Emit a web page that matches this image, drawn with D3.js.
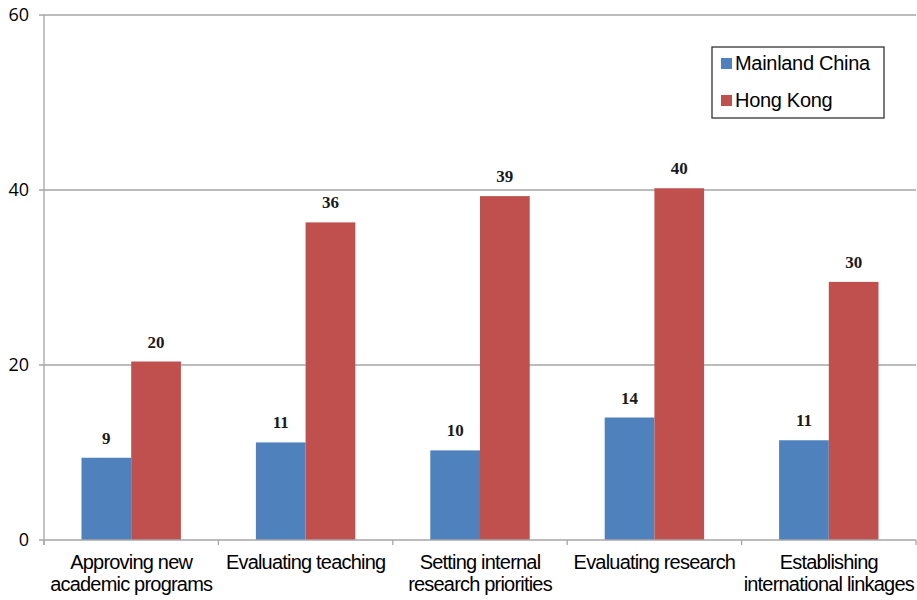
<!DOCTYPE html>
<html>
<head>
<meta charset="utf-8">
<script src="https://cdn.jsdelivr.net/npm/d3@7"></script>
<style>
  body { margin: 0; background: #fff; }
  svg { display: block; }
</style>
</head>
<body>
<script>
const categories = [
  ['Approving new', 'academic programs'],
  ['Evaluating teaching'],
  ['Setting internal', 'research priorities'],
  ['Evaluating research'],
  ['Establishing', 'international linkages']
]
const seriesNames = ['Mainland China', 'Hong Kong']
const mainland = [9.4, 11.15, 10.24, 14.0, 11.4]
const hongKong = [20.4, 36.3, 39.3, 40.2, 29.5]
const yTicks = [0, 20, 40, 60]

const width = 917
const height = 600
const margin = { top: 15, right: 1, bottom: 60, left: 44 }
const colors = ['#4F81BD', '#C0504D']

const svg = d3.select('body')
  .append('svg')
  .attr('width', width)
  .attr('height', height)

const x = d3.scaleBand()
  .domain(d3.range(categories.length))
  .range([margin.left, width - margin.right])

const bw = x.bandwidth() * 0.285
const y = d3.scaleLinear()
  .domain([0, 60])
  .range([height - margin.bottom, margin.top])

// gridlines
svg.append('g')
  .selectAll('line')
  .data(yTicks.slice(1))
  .enter()
  .append('line')
  .attr('x1', margin.left - 5)
  .attr('x2', width - margin.right)
  .attr('y1', d => y(d))
  .attr('y2', d => y(d))
  .attr('stroke', '#a6a6a6')
  .attr('stroke-width', 1.3)

// y tick labels
svg.append('g')
  .selectAll('text')
  .data(yTicks)
  .enter()
  .append('text')
  .attr('x', 29)
  .attr('y', d => y(d))
  .attr('dy', '0.35em')
  .attr('text-anchor', 'end')
  .attr('font-family', 'Open Sans, sans-serif')
  .attr('font-size', 18)
  .text(d => d)

const data = [mainland, hongKong]

data.forEach((vals, s) => {
  svg.append('g')
    .selectAll('rect')
    .data(vals)
    .enter()
    .append('rect')
    .attr('x', (d, i) => x(i) + x.bandwidth() / 2 - bw + s * bw)
    .attr('y', d => y(d))
    .attr('width', bw)
    .attr('height', d => y(0) - y(d))
    .attr('fill', colors[s])

  svg.append('g')
    .selectAll('text')
    .data(vals)
    .enter()
    .append('text')
    .attr('x', (d, i) => x(i) + x.bandwidth() / 2 - bw / 2 + s * bw)
    .attr('y', d => y(d) - 14)
    .attr('text-anchor', 'middle')
    .attr('font-family', 'Liberation Serif, serif')
    .attr('font-weight', 'bold')
    .attr('font-size', 17)
    .attr('fill', '#1a1a1a')
    .text(d => Math.round(d))
})

// axes lines
svg.append('line')
  .attr('x1', margin.left)
  .attr('x2', margin.left)
  .attr('y1', y(60))
  .attr('y2', y(0) + 5)
  .attr('stroke', '#a6a6a6')
  .attr('stroke-width', 1.3)

svg.append('line')
  .attr('x1', margin.left - 5)
  .attr('x2', width - margin.right)
  .attr('y1', y(0))
  .attr('y2', y(0))
  .attr('stroke', '#a6a6a6')
  .attr('stroke-width', 1.3)

svg.append('g')
  .selectAll('line')
  .data(d3.range(categories.length + 1))
  .enter()
  .append('line')
  .attr('x1', i => margin.left + i * x.step())
  .attr('x2', i => margin.left + i * x.step())
  .attr('y1', y(0))
  .attr('y2', y(0) + 5)
  .attr('stroke', '#a6a6a6')
  .attr('stroke-width', 1.3)

// category labels
const cat = svg.append('g')
  .selectAll('text')
  .data(categories)
  .enter()
  .append('text')
  .attr('x', (d, i) => x(i) + x.bandwidth() / 2)
  .attr('y', y(0) + 29)
  .attr('text-anchor', 'middle')
  .attr('font-family', 'Liberation Sans, Arial, sans-serif')
  .attr('font-size', 20)
  .attr('letter-spacing', -0.8)

cat.selectAll('tspan')
  .data(d => d)
  .enter()
  .append('tspan')
  .attr('x', function () { return d3.select(this.parentNode).attr('x') })
  .attr('dy', (d, i) => i === 0 ? 0 : 22)
  .text(d => d)

// legend
const lg = svg.append('g')
lg.append('rect')
  .attr('x', 712)
  .attr('y', 47)
  .attr('width', 172)
  .attr('height', 71)
  .attr('fill', '#fff')
  .attr('stroke', '#333')
  .attr('stroke-width', 1.3)

seriesNames.forEach((name, i) => {
  lg.append('rect')
    .attr('x', 721)
    .attr('y', 58 + i * 37)
    .attr('width', 11)
    .attr('height', 11)
    .attr('fill', colors[i])
  lg.append('text')
    .attr('x', 735)
    .attr('y', 70 + i * 37)
    .attr('font-family', 'Liberation Sans, Arial, sans-serif')
    .attr('font-size', 20)
    .attr('letter-spacing', -0.3)
    .text(name)
})
</script>
</body>
</html>
